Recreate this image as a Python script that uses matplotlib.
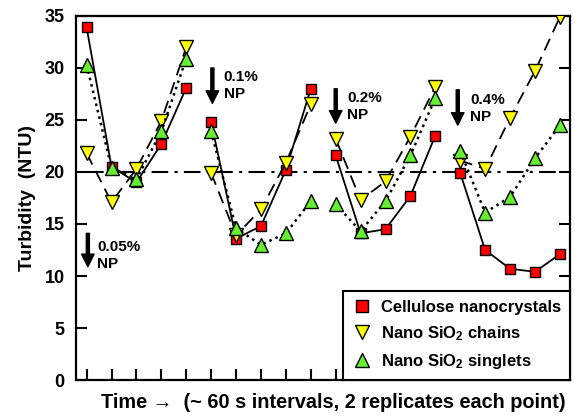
import matplotlib
matplotlib.use("Agg")
import matplotlib.pyplot as plt

plt.rcParams['font.family'] = ['Liberation Sans', 'DejaVu Sans']
plt.rcParams['font.weight'] = 'bold'
plt.rcParams['mathtext.fontset'] = 'custom'
plt.rcParams['mathtext.rm'] = 'Liberation Sans:bold'
plt.rcParams['mathtext.bf'] = 'Liberation Sans:bold'
plt.rcParams['mathtext.default'] = 'rm'

# 4 groups of 5 readings (0.05, 0.1, 0.2, 0.4 % NP)
groups = [[1, 2, 3, 4, 5], [6, 7, 8, 9, 10], [11, 12, 13, 14, 15], [16, 17, 18, 19, 20]]

cnc = [[33.9, 20.5, 19.0, 22.7, 28.1],
       [24.8, 13.6, 14.8, 20.2, 28.0],
       [21.6, 14.1, 14.5, 17.7, 23.5],
       [19.9, 12.5, 10.7, 10.4, 12.1]]
chains = [[21.8, 17.1, 20.3, 24.9, 32.0],
          [19.9, 13.9, 16.4, 20.9, 26.5],
          [23.2, 17.3, 19.1, 23.4, 28.2],
          [21.1, 20.3, 25.2, 29.7, 34.9]]
singlets = [[30.3, 20.4, 19.3, 23.9, 30.9],
            [23.9, 14.6, 13.0, 14.1, 17.2],
            [16.9, 14.3, 17.2, 21.6, 27.1],
            [22.0, 16.1, 17.6, 21.3, 24.5]]

np_labels = ['0.05%\nNP', '0.1%\nNP', '0.2%\nNP', '0.4%\nNP']
arrow_x = [1.05, 6.05, 11.0, 15.9]
arrow_top = [14.1, 30.0, 28.0, 27.9]
arrow_bot = [10.9, 26.6, 24.7, 24.5]
text_x = [1.42, 6.5, 11.45, 16.4]
text_top = [13.5, 29.8, 27.8, 27.6]

fig = plt.figure(figsize=(5.75, 4.17), dpi=100)
ax = fig.add_axes([0.132, 0.0887, 0.859, 0.873])

ax.plot([1, 20], [20, 20], color='black', lw=1.5, dashes=(8, 3, 1.5, 3), zorder=1)

for i in range(4):
    ax.plot(groups[i], cnc[i], '-', color='black', lw=1.3, marker='s', ms=7.5,
            mfc='#ff0000', mec='black', mew=1, zorder=3)
    ax.plot(groups[i], chains[i], color='black', lw=1.3, dashes=(7, 4), marker='v', ms=10,
            mfc='#ffff00', mec='black', mew=1, zorder=3)
    ax.plot(groups[i], singlets[i], ':', color='black', lw=1.8, marker='^', ms=10,
            mfc='#66ee33', mec='black', mew=1, zorder=3)

    ax.annotate('', xy=(arrow_x[i], arrow_bot[i]), xytext=(arrow_x[i], arrow_top[i]),
                arrowprops=dict(facecolor='black', edgecolor='black', width=2.2,
                                headwidth=9, headlength=9, shrink=0))
    ax.text(text_x[i], text_top[i], np_labels[i], fontsize=11, fontweight='bold',
            va='top', ha='left', linespacing=1.3)

h1, = ax.plot([], [], 's', ms=8, mfc='#ff0000', mec='black', mew=1)
h2, = ax.plot([], [], 'v', ms=10.5, mfc='#ffff00', mec='black', mew=1)
h3, = ax.plot([], [], '^', ms=10.5, mfc='#66ee33', mec='black', mew=1)
leg = ax.legend([h1, h2, h3], ['Cellulose nanocrystals', r'Nano SiO$_2$ chains', r'Nano SiO$_2$ singlets'],
                loc='lower right', borderaxespad=0, fancybox=False, framealpha=1,
                edgecolor='black', prop={'size': 12, 'weight': 'bold'},
                handletextpad=0.5, borderpad=0.55, labelspacing=0.55, handlelength=1.2)
leg.get_frame().set_linewidth(1.5)

ax.set_xlim(0.57, 20.4)
ax.set_ylim(0, 35)
ax.set_xticks(range(1, 21))
ax.set_xticklabels([])
ax.set_yticks(range(0, 36, 5))
ax.tick_params(direction='in', length=8, width=1.5, labelsize=13, right=True, top=False, pad=8)
for lab in ax.get_yticklabels():
    lab.set_fontweight('bold')
for s in ax.spines.values():
    s.set_linewidth(1.6)

ax.set_ylabel('Turbidity  (NTU)', fontsize=14, fontweight='bold', labelpad=6)
fig.text(0.579, 0.035, 'Time \u2192  (~ 60 s intervals, 2 replicates each point)', fontsize=14.3,
         fontweight='bold', ha='center', va='center')

fig.savefig('out.png', dpi=100)
